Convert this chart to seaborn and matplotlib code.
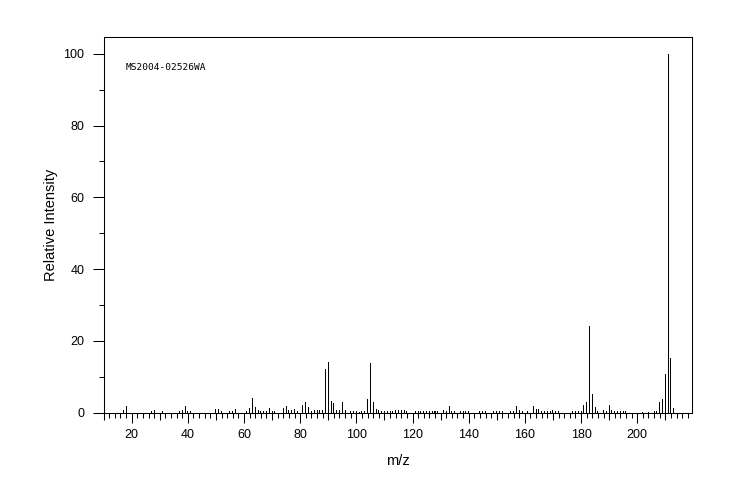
import matplotlib
matplotlib.use("Agg")
import matplotlib.pyplot as plt
from matplotlib.ticker import MultipleLocator, FixedLocator, NullFormatter
import seaborn as sns
import pandas as pd

# ---- spectrum data (m/z, relative intensity) ----
mz = [17, 18, 27, 28, 31, 37, 38, 39, 40, 41,
      50, 51, 52, 55, 56, 57, 61, 62, 63, 64,
      65, 66, 67, 68, 69, 70, 71, 74, 75, 76,
      77, 78, 79, 81, 82, 83, 84, 85, 86, 87,
      88, 89, 90, 91, 92, 93, 94, 95, 96, 98,
      99, 100, 101, 102, 103, 104, 105, 106, 107, 108,
      109, 110, 111, 112, 113, 114, 115, 116, 117, 118,
      121, 122, 123, 124, 125, 126, 127, 128, 129, 131,
      132, 133, 134, 135, 137, 138, 139, 140, 144, 145,
      146, 149, 150, 151, 152, 155, 156, 157, 158, 159,
      161, 163, 164, 165, 166, 167, 168, 169, 170, 171,
      172, 177, 178, 179, 180, 181, 182, 183, 184, 185,
      186, 188, 189, 190, 191, 192, 193, 194, 195, 196,
      202, 204, 206, 207, 208, 209, 210, 211, 212, 213]
intensity = [0.8, 1.8, 0.4, 0.7, 0.3, 0.4, 0.7, 1.8, 0.4, 0.3,
             1.1, 0.9, 0.4, 0.4, 0.5, 0.9, 0.4, 1.3, 4.0, 1.5,
             0.6, 0.5, 0.4, 0.5, 1.2, 0.5, 0.4, 1.2, 1.8, 0.7,
             0.6, 1.1, 0.5, 2.1, 3.0, 1.6, 0.3, 0.6, 0.7, 0.7,
             0.7, 12.2, 14.1, 3.3, 2.6, 0.6, 0.6, 2.8, 0.7, 0.4,
             0.4, 0.3, 0.2, 0.3, 0.4, 3.9, 13.9, 2.8, 1.0, 0.6,
             0.4, 0.3, 0.3, 0.5, 0.4, 0.7, 0.7, 0.6, 0.6, 0.4,
             0.4, 0.3, 0.3, 0.3, 0.3, 0.3, 0.4, 0.3, 0.3, 0.6,
             0.4, 1.8, 0.4, 0.3, 0.3, 0.3, 0.3, 0.3, 0.3, 0.3,
             0.3, 0.3, 0.3, 0.3, 0.3, 0.3, 0.4, 1.8, 0.6, 0.3,
             0.3, 1.8, 1.1, 0.9, 0.5, 0.3, 0.3, 0.3, 0.7, 0.3,
             0.3, 0.3, 0.3, 0.3, 0.4, 2.0, 2.9, 24.0, 5.1, 1.5,
             0.4, 0.6, 0.3, 2.2, 0.8, 0.4, 0.3, 0.3, 0.3, 0.3,
             0.2, 0.2, 0.4, 0.3, 2.8, 3.7, 10.8, 100.0, 15.3, 1.2]
sample_id = "MS2004-02526WA"

df = pd.DataFrame({"mz": mz, "intensity": intensity})

sns.set_style("ticks")
plt.rcParams["font.family"] = ["Liberation Sans", "DejaVu Sans"]
plt.rcParams["text.color"] = "black"
plt.rcParams["axes.labelcolor"] = "black"
plt.rcParams["xtick.color"] = "black"
plt.rcParams["ytick.color"] = "black"

fig = plt.figure(figsize=(7.44, 5.0), dpi=100)
ax = fig.add_axes([0.1392, 0.175, 0.7909, 0.751])

sns.barplot(data=df, x="mz", y="intensity", native_scale=True, width=0.36,
            color="black", saturation=1, errorbar=None, linewidth=0,
            antialiased=False, ax=ax)

ax.set_xlim(10, 219.5)
ax.set_ylim(0, 104.7)

for s in ax.spines.values():
    s.set_visible(True)
    s.set_linewidth(0.75)
    s.set_color("black")

ax.xaxis.set_major_locator(MultipleLocator(20))
ax.xaxis.set_minor_locator(MultipleLocator(2))
ax.yaxis.set_major_locator(MultipleLocator(20))
ax.yaxis.set_minor_locator(MultipleLocator(10))
ax.tick_params(axis="x", which="major", length=7.2, width=0.75, pad=5, labelsize=9, colors="black")
ax.tick_params(axis="x", which="minor", length=3.6, width=0.75, colors="black")
ax.tick_params(axis="y", which="major", length=7.7, width=0.75, pad=6, labelsize=9, colors="black")
ax.tick_params(axis="y", which="minor", length=3.6, width=0.75, colors="black")

# medium ticks at every odd ten
sec = ax.secondary_xaxis("bottom")
sec.xaxis.set_major_locator(FixedLocator(list(range(10, 220, 20))))
sec.xaxis.set_major_formatter(NullFormatter())
sec.tick_params(axis="x", which="major", length=5, width=0.75, colors="black")
sec.xaxis.set_minor_locator(FixedLocator([]))
for s in sec.spines.values():
    s.set_visible(False)

ax.set_xlabel("m/z", fontsize=10.5, labelpad=9, color="black")
ax.set_ylabel("Relative Intensity", fontsize=10.5, labelpad=4, color="black")
ax.text(0.037, 0.92, sample_id, transform=ax.transAxes, fontsize=6.8,
        family="DejaVu Sans Mono", va="center", ha="left", color="black")

fig.savefig("out.png", dpi=100)
